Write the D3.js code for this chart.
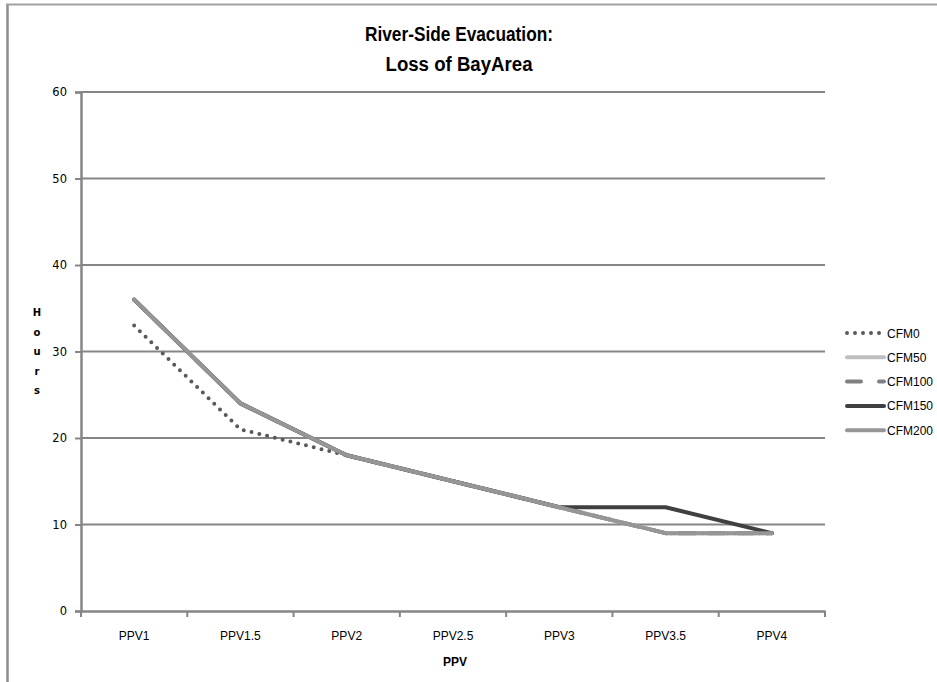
<!DOCTYPE html>
<html>
<head>
<meta charset="utf-8">
<script src="https://cdn.jsdelivr.net/npm/d3@7"></script>
<style>
  html, body { margin: 0; padding: 0; background: #fff; }
  svg { display: block; }
</style>
</head>
<body>
<svg id="chart" width="937" height="682"></svg>
<script>
const categories = ["PPV1", "PPV1.5", "PPV2", "PPV2.5", "PPV3", "PPV3.5", "PPV4"];
const seriesNames = ["CFM0", "CFM50", "CFM100", "CFM150", "CFM200"];
const cfm0   = [33, 21, 18, 15, 12, 9, 9];
const cfm50  = [36, 24, 18, 15, 12, 9, 9];
const cfm100 = [36, 24, 18, 15, 12, 9, 9];
const cfm150 = [36, 24, 18, 15, 12, 12, 9];
const cfm200 = [36, 24, 18, 15, 12, 9, 9];
const yTicks = [0, 10, 20, 30, 40, 50, 60];
const titleLines = ["River-Side Evacuation:", "Loss of BayArea"];
const yTitle = "Hours";
const xTitle = "PPV";

const seriesValues = [cfm0, cfm50, cfm100, cfm150, cfm200];
const styles = [
  { color: "#595959", width: 4, dash: "0 8", cap: "round" },
  { color: "#bfbfbf", width: 4, dash: null, cap: "round" },
  { color: "#808080", width: 4, dash: "16 13", cap: "round" },
  { color: "#404040", width: 4, dash: null, cap: "round" },
  { color: "#969696", width: 4, dash: null, cap: "round" }
];

const svg = d3.select("#chart");
const plot = { left: 81, right: 825, top: 92, bottom: 611 };

// outer frame
svg.append("line").attr("x1", 7.5).attr("x2", 7.5).attr("y1", 4).attr("y2", 682)
  .attr("stroke", "#8c8c8c").attr("stroke-width", 2.5);
svg.append("line").attr("x1", 6).attr("x2", 937).attr("y1", 4.5).attr("y2", 4.5)
  .attr("stroke", "#a0a0a0").attr("stroke-width", 2);

const x = d3.scaleBand().domain(categories).range([plot.left, plot.right]).paddingInner(0).paddingOuter(0);
const y = d3.scaleLinear().domain([0, 60]).range([plot.bottom, plot.top]);

// gridlines
svg.append("g").selectAll("line").data(yTicks.filter(d => d > 0)).join("line")
  .attr("x1", plot.left).attr("x2", plot.right)
  .attr("y1", d => y(d)).attr("y2", d => y(d))
  .attr("stroke", "#868686").attr("stroke-width", 2);

// y axis
const yAxis = svg.append("g").attr("transform", `translate(${plot.left},0)`)
  .call(d3.axisLeft(y).tickValues(yTicks).tickSize(6).tickPadding(8).tickFormat(d3.format("d")));
yAxis.select(".domain").attr("stroke", "#868686").attr("stroke-width", 2.5);
yAxis.selectAll(".tick line").attr("stroke", "#868686").attr("stroke-width", 2);
yAxis.selectAll("text").attr("font-family", "DejaVu Sans, Verdana, sans-serif").attr("font-size", 11.5).attr("fill", "#000");

// x axis
const xAxis = svg.append("g").attr("transform", `translate(0,${plot.bottom})`)
  .call(d3.axisBottom(x).tickSize(0).tickPadding(20));
xAxis.select(".domain").attr("stroke", "#868686").attr("stroke-width", 2.5);
xAxis.selectAll("text").attr("font-family", "Liberation Sans, Arial, sans-serif")
  .attr("font-size", 12).attr("fill", "#000");
// x tick marks at category boundaries
const bounds = categories.map(c => x(c)).concat([x(categories[categories.length - 1]) + x.bandwidth()]);
xAxis.append("g").selectAll("line").data(bounds).join("line")
  .attr("x1", d => d).attr("x2", d => d).attr("y1", 0).attr("y2", 6)
  .attr("stroke", "#868686").attr("stroke-width", 2);

// lines
const line = d3.line().x((d, i) => x(categories[i]) + x.bandwidth() / 2).y(d => y(d));
seriesValues.forEach((vals, i) => {
  const s = styles[i];
  svg.append("path").datum(vals)
    .attr("d", line).attr("fill", "none")
    .attr("stroke", s.color).attr("stroke-width", s.width)
    .attr("stroke-linecap", s.cap).attr("stroke-linejoin", "round")
    .attr("stroke-dasharray", s.dash);
});

// title
const titleWidths = [188, 147];
svg.append("g").selectAll("text").data(titleLines).join("text")
  .attr("x", 459).attr("y", (d, i) => 41 + i * 30)
  .attr("text-anchor", "middle")
  .attr("font-family", "Liberation Sans, Arial, sans-serif")
  .attr("font-weight", "bold").attr("font-size", 19.5).attr("fill", "#000")
  .attr("textLength", (d, i) => titleWidths[i]).attr("lengthAdjust", "spacingAndGlyphs")
  .text(d => d);

// y title stacked letters
svg.append("g").selectAll("text").data(yTitle.split("")).join("text")
  .attr("x", 37).attr("y", (d, i) => 316 + i * 19.5)
  .attr("text-anchor", "middle")
  .attr("font-family", "DejaVu Sans, Verdana, sans-serif")
  .attr("font-weight", "bold").attr("font-size", 10).attr("fill", "#000")
  .text(d => d);

// x title
svg.append("text").attr("x", 455).attr("y", 666).attr("text-anchor", "middle")
  .attr("font-family", "Liberation Sans, Arial, sans-serif")
  .attr("font-weight", "bold").attr("font-size", 12).attr("fill", "#000")
  .text(xTitle);

// legend
const legend = svg.append("g").selectAll("g").data(seriesNames).join("g")
  .attr("transform", (d, i) => `translate(847,${333 + i * 24.3})`);
legend.append("line").attr("x1", 0).attr("x2", 37).attr("y1", 0).attr("y2", 0)
  .attr("stroke", (d, i) => styles[i].color).attr("stroke-width", 4)
  .attr("stroke-linecap", "round")
  .attr("stroke-dasharray", (d, i) => i === 0 ? "0 8" : (i === 2 ? "14 18" : null));
legend.append("text").attr("x", 40).attr("y", 4.5)
  .attr("font-family", "Liberation Sans, Arial, sans-serif")
  .attr("font-size", 12).attr("fill", "#000").text(d => d);
</script>
</body>
</html>
